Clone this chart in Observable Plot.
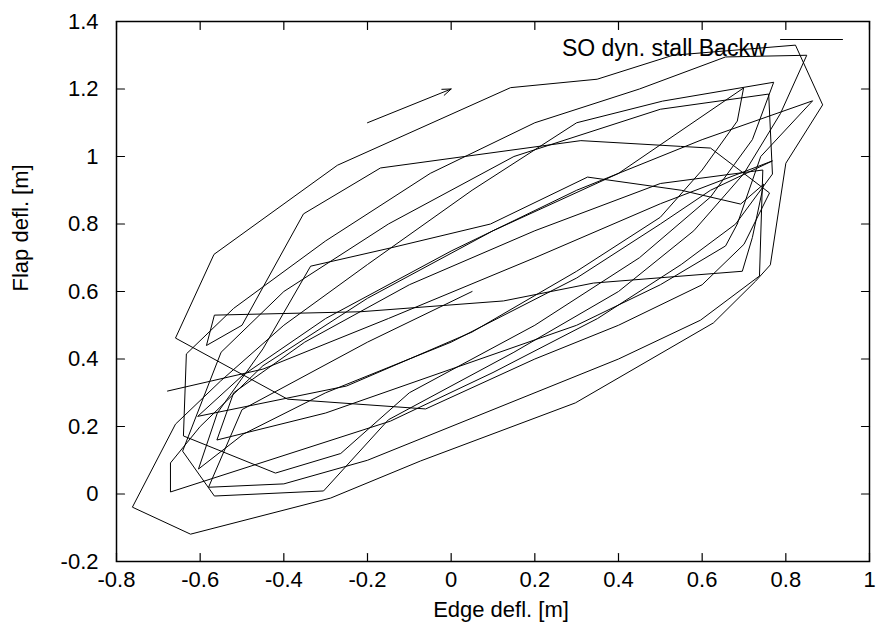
<!DOCTYPE html>
<html><head><meta charset="utf-8">
<script src="https://cdn.jsdelivr.net/npm/d3@7"></script>
<script src="https://cdn.jsdelivr.net/npm/@observablehq/plot@0.6"></script>
<style>body{margin:0;background:#fff;} #chart{width:877px;height:635px;}</style>
</head><body><div id="chart"></div>
<script>
const edge = [
-0.678,-0.45,-0.15,0.20,0.50,0.768,0.62,0.50,0.30,0.00,-0.30,-0.496,-0.604,
-0.559,-0.45,-0.336,-0.145,0.094,0.326,0.55,0.692,0.747,0.72,0.696,0.34,0.125,-0.217,-0.566,-0.585,
-0.50,-0.353,-0.169,0.31,0.548,0.62,0.761,0.70,0.60,0.40,0.20,-0.061,-0.391,-0.659,
-0.567,-0.272,0.142,0.349,0.53,0.823,0.888,0.80,0.763,0.728,0.627,0.297,-0.073,-0.288,-0.623,-0.762,-0.659,
-0.551,-0.40,-0.20,0.05,0.30,0.505,0.771,0.72,0.62,0.45,0.20,-0.10,-0.264,-0.42,-0.640,-0.633,
-0.52,-0.30,-0.05,0.20,0.45,0.656,0.85,0.787,0.70,0.58,0.40,0.15,-0.15,-0.305,-0.566,-0.642,
-0.55,-0.40,-0.15,0.15,0.50,0.759,0.768,0.68,0.55,0.35,0.10,-0.145,-0.671,-0.671,
-0.60,-0.45,-0.20,0.10,0.40,0.699,0.684,0.60,0.50,0.30,0.05,-0.25,-0.606,
-0.50,-0.30,0.00,0.30,0.60,0.864,0.74,0.684,0.656,0.50,0.30,0.00,-0.30,-0.56,
-0.52,-0.35,-0.10,0.20,0.50,0.745,0.737,0.596,0.40,0.10,-0.20,-0.40,-0.58,-0.50,-0.20,0.05
];
const flap = [
0.305,0.37,0.52,0.70,0.86,0.987,0.90,0.80,0.64,0.45,0.30,0.178,0.074,
0.24,0.43,0.675,0.729,0.80,0.939,0.90,0.859,0.918,0.76,0.66,0.625,0.572,0.54,0.53,0.44,
0.50,0.83,0.966,1.047,1.03,1.025,0.892,0.74,0.62,0.50,0.40,0.252,0.281,0.462,
0.71,0.974,1.204,1.229,1.30,1.33,1.153,0.98,0.679,0.631,0.507,0.27,0.098,-0.012,-0.119,-0.039,0.207,
0.335,0.50,0.68,0.90,1.10,1.164,1.22,1.05,0.88,0.70,0.50,0.30,0.12,0.062,0.172,0.415,
0.55,0.75,0.95,1.10,1.20,1.295,1.30,1.127,0.95,0.78,0.60,0.42,0.22,0.009,-0.006,0.127,
0.42,0.60,0.80,1.00,1.14,1.185,0.948,0.80,0.68,0.52,0.36,0.216,0.006,0.092,
0.20,0.38,0.58,0.78,0.95,1.203,1.105,0.96,0.82,0.66,0.48,0.32,0.23,
0.35,0.52,0.72,0.90,1.05,1.165,1.00,0.80,0.735,0.62,0.50,0.37,0.24,0.16,
0.30,0.45,0.62,0.78,0.92,0.96,0.646,0.515,0.40,0.25,0.10,0.03,0.02,0.25,0.45,0.60
];
const xTicks = [-0.8,-0.6,-0.4,-0.2,0,0.2,0.4,0.6,0.8,1];
const xTickLabels = ["-0.8","-0.6","-0.4","-0.2","0","0.2","0.4","0.6","0.8","1"];
const yTicks = [-0.2,0,0.2,0.4,0.6,0.8,1,1.2,1.4];
const yTickLabels = ["-0.2","0","0.2","0.4","0.6","0.8","1","1.2","1.4"];
const arrowEdge = [-0.2, 0.0];
const arrowFlap = [1.1, 1.2];
const legendLabel = "SO dyn. stall Backw";
const xLabel = "Edge defl. [m]";
const yLabel = "Flap defl. [m]";

const pts = edge.map((e, i) => ({edge: e, flap: flap[i]}));
const tickShape = {draw(ctx, l) { ctx.moveTo(0, 0); ctx.lineTo(0, -l); }};
const tk = {length: 8, anchor: "start", shape: tickShape, stroke: "black", strokeWidth: 1.2};
const fs = 22;

const chart = Plot.plot({
  width: 877, height: 635,
  marginLeft: 116, marginRight: 8, marginTop: 21, marginBottom: 74,
  style: {fontFamily: "'Liberation Sans', Arial, Helvetica, sans-serif", fontSize: fs + "px", color: "black", background: "white"},
  x: {domain: [-0.8, 1]},
  y: {domain: [-0.2, 1.4]},
  marks: [
    Plot.line(pts, {x: "edge", y: "flap", stroke: "black", strokeWidth: 1}),
    Plot.arrow([0], {x1: () => arrowEdge[0], y1: () => arrowFlap[0], x2: () => arrowEdge[1], y2: () => arrowFlap[1], stroke: "black", strokeWidth: 1, headLength: 14, headAngle: 40}),
    Plot.vector(xTicks, {x: d => d, frameAnchor: "bottom", rotate: 0, ...tk}),
    Plot.vector(xTicks, {x: d => d, frameAnchor: "top", rotate: 180, ...tk}),
    Plot.vector(yTicks, {y: d => d, frameAnchor: "left", rotate: 90, ...tk}),
    Plot.vector(yTicks, {y: d => d, frameAnchor: "right", rotate: -90, ...tk}),
    Plot.axisX({ticks: xTicks, tickFormat: d => xTickLabels[xTicks.indexOf(d)], tickSize: 0, tickPadding: 10, label: null, fontSize: fs}),
    Plot.axisY({ticks: yTicks, tickFormat: d => yTickLabels[yTicks.indexOf(d)], tickSize: 0, tickPadding: 18, label: null, fontSize: fs}),
    Plot.frame({stroke: "black", strokeWidth: 1.5}),
    Plot.text([xLabel], {text: d => d, frameAnchor: "bottom", dx: 8, dy: 55, fontSize: fs}),
    Plot.text([yLabel], {text: d => d, frameAnchor: "left", dx: -96, rotate: -90, fontSize: fs}),
    Plot.text([legendLabel], {text: d => d, frameAnchor: "top-right", dx: -103, dy: 18, textAnchor: "end", fontSize: 23}),
    Plot.vector([legendLabel], {frameAnchor: "top-right", dx: -89, dy: 18, rotate: 90, length: 62, anchor: "start", shape: tickShape, stroke: "black", strokeWidth: 1})
  ]
});
document.getElementById("chart").append(chart);
</script>
</body></html>
